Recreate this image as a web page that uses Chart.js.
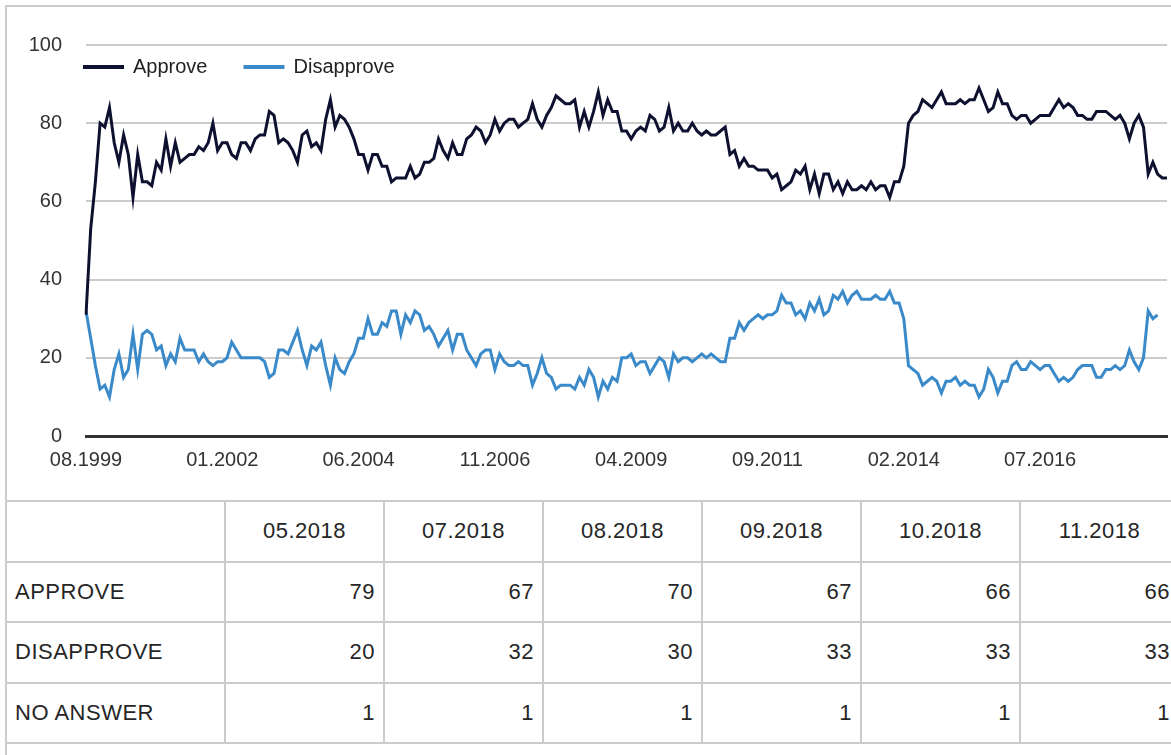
<!DOCTYPE html>
<html>
<head>
<meta charset="utf-8">
<title>Approve / Disapprove</title>
<script src="https://cdn.jsdelivr.net/npm/chart.js@4.4.1/dist/chart.umd.min.js"></script>
<style>
  html, body { margin: 0; padding: 0; background: #fff; overflow: hidden; }
  #wrap { position: absolute; left: 5px; top: 5px; width: 1180px; border-left: 2px solid #ccc; border-top: 2px solid #ccc; padding-bottom: 40px; }
  #canvas-holder { position: relative; width: 1173px; height: 493px; }
  table { border-collapse: collapse; table-layout: fixed; font-family: "Liberation Sans", Arial, sans-serif; font-size: 22px; color: #262626; letter-spacing: 0.5px; }
  td { border: 2px solid #ccc; height: 58.5px; padding: 0 8px; white-space: nowrap; }
  td:first-child { border-left: none; }
  tr.head td { text-align: center; }
  tr.row td { text-align: right; }
  tr.row td:first-child { text-align: left; }
</style>
</head>
<body>
<div id="wrap">
  <div id="canvas-holder"><canvas id="chart-area"></canvas></div>
  <table id="tbl">
    <colgroup>
      <col style="width:218px"><col style="width:159px"><col style="width:159px"><col style="width:159px"><col style="width:159px"><col style="width:159px"><col style="width:159px">
    </colgroup>
    <tbody></tbody>
  </table>
</div>

<script>
    // monthly labels 08.1999 .. 11.2018 (no survey in 06.2018)
    var months = [];
    for (var y = 1999; y <= 2018; y++) {
        for (var m = 1; m <= 12; m++) {
            if ((y === 1999 && m < 8) || (y === 2018 && (m === 6 || m > 11))) continue;
            months.push((m < 10 ? '0' : '') + m + '.' + y);
        }
    }

    var approve = [
        31,53,65,80,79,84,75,70,77,72, 61,72,65,65,64,70,68,76,69,75,
        70,71,72,72,74,73,75,80,73,75, 75,72,71,75,75,73,76,77,77,
        83,82,75,76,75,73,70,77,78,74, 75,73,81,86,79,82,81,79,76,72,
        72,68,72,72,69,69,65,66,66,66, 69,66,67,70,70,71,76,73,71,
        75,72,72,76,77,79,78,75,77,81, 78,80,81,81,79,80,81,85,81,79,
        82,84,87,86,85,85,86,79,83,79, 83,88,82,86,83,83,78,78,
        76,78,79,78,82,81,78,79,84,78, 80,78,78,80,78,77,78,77,77,78,
        79,72,73,69,71,69,69,68,68,68, 66,67,63,64,65,68,67,69,63,
        67,62,67,67,63,65,62,65,63,63, 64,63,65,63,64,64,61,65,65,69,
        80,82,83,86,85,84,86,88,85,85, 85,86,85,86,86,89,86,83,84,
        88,85,85,82,81,82,82,80,81,82, 82,82,84,86,84,85,84,82,82,81,
        81,83,83,83,82,81,82,80,76,80, 82,79,67,70,67,66,66
    ];

    var disapprove = [
        32,25,18,12,13,10,17,21,15,17, 26,17,26,27,26,22,23,18,21,19,
        25,22,22,22,19,21,19,18,19,19, 20,24,22,20,20,20,20,20,19,
        15,16,22,22,21,24,27,22,18,23, 22,24,18,13,20,17,16,19,21,25,
        25,30,26,26,29,28,32,32,26,31, 29,32,31,27,28,26,23,25,27,
        22,26,26,22,20,18,21,22,22,17, 21,19,18,18,19,18,18,13,16,20,
        16,15,12,13,13,13,12,15,13,17, 15,10,14,12,15,14,20,20,
        21,18,19,19,16,18,20,19,15,21, 19,20,20,19,20,21,20,21,20,19,
        19,25,25,29,27,29,30,31,30,31, 31,32,36,34,34,31,32,30,34,
        32,35,31,32,36,35,37,34,36,37, 35,35,35,36,35,35,37,34,34,30,
        18,17,16,13,14,15,14,11,14,14, 15,13,14,13,13,10,12,17,15,
        11,14,14,18,19,17,17,19,18,17, 18,18,16,14,15,14,15,17,18,18,
        18,15,15,17,17,18,17,18,22,19, 17,20,32,30,31,null,null
    ];

    var yTicks = [0, 20, 40, 60, 80, 100];

    // table under the chart
    var tableMonths = ['05.2018', '07.2018', '08.2018', '09.2018', '10.2018', '11.2018'];
    var tableApprove = [79, 67, 70, 67, 66, 66];
    var tableDisapprove = [20, 32, 30, 33, 33, 33];
    var tableNoAnswer = [1, 1, 1, 1, 1, 1];

    var tbody = document.querySelector('#tbl tbody');
    var html = '<tr class="head"><td></td>';
    tableMonths.forEach(function(t) { html += '<td>' + t + '</td>'; });
    html += '</tr>';
    [['APPROVE', tableApprove], ['DISAPPROVE', tableDisapprove], ['NO ANSWER', tableNoAnswer]].forEach(function(r) {
        html += '<tr class="row"><td>' + r[0] + '</td>';
        r[1].forEach(function(v) { html += '<td>' + v + '</td>'; });
        html += '</tr>';
    });
    tbody.innerHTML = html;

    var FONT = '"Liberation Sans", Arial, sans-serif';
    Chart.defaults.font.family = FONT;

    // legend drawn inside the plot, lines + labels
    var lineLegend = {
        id: 'lineLegend',
        afterDraw: function(chart) {
            var ctx = chart.ctx;
            var x = chart.chartArea.left - 3;
            var y = chart.chartArea.top + 22;
            ctx.save();
            ctx.font = '20px ' + FONT;
            ctx.textBaseline = 'middle';
            chart.data.datasets.forEach(function(ds) {
                ctx.strokeStyle = ds.borderColor;
                ctx.lineWidth = 4;
                ctx.beginPath();
                ctx.moveTo(x, y);
                ctx.lineTo(x + 41, y);
                ctx.stroke();
                ctx.fillStyle = '#222';
                ctx.fillText(ds.label, x + 50, y);
                x += 50 + ctx.measureText(ds.label).width + 36;
            });
            ctx.restore();
        }
    };

    var config = {
        type: 'line',
        data: {
            labels: months,
            datasets: [{
                label: 'Approve',
                data: approve,
                borderColor: '#0e1030',
                backgroundColor: '#0e1030',
                borderWidth: 3,
                pointRadius: 0,
                tension: 0
            }, {
                label: 'Disapprove',
                data: disapprove,
                borderColor: '#3a89c9',
                backgroundColor: '#3a89c9',
                borderWidth: 3,
                pointRadius: 0,
                tension: 0
            }]
        },
        options: {
            responsive: true,
            maintainAspectRatio: false,
            animation: false,
            devicePixelRatio: 1,
            layout: { padding: { left: 22, right: 13, top: 38, bottom: 28 } },
            plugins: {
                legend: { display: false },
                tooltip: { enabled: false }
            },
            scales: {
                x: {
                    type: 'category',
                    offset: false,
                    afterFit: function(axis) { axis.height = 36; },
                    grid: { display: false, drawTicks: false, tickLength: 0 },
                    border: { color: '#333', width: 3 },
                    ticks: {
                        autoSkip: false,
                        maxRotation: 0,
                        padding: 12,
                        color: '#333',
                        font: { size: 20 },
                        callback: function(val, idx) {
                            return idx % 29 === 0 ? this.getLabelForValue(val) : null;
                        }
                    }
                },
                y: {
                    min: yTicks[0],
                    max: yTicks[yTicks.length - 1],
                    afterBuildTicks: function(axis) {
                        axis.ticks = yTicks.map(function(v) { return { value: v }; });
                    },
                    afterFit: function(axis) { axis.width = 57; },
                    border: { display: false },
                    grid: {
                        drawTicks: false,
                        tickLength: 0,
                        lineWidth: 2,
                        color: function(c) { return c.tick && c.tick.value === 0 ? 'rgba(0,0,0,0)' : '#cccccc'; }
                    },
                    ticks: { padding: 24, color: '#333', font: { size: 20 } }
                }
            }
        },
        plugins: [lineLegend]
    };

    var ctx = document.getElementById('chart-area').getContext('2d');
    window.myLine = new Chart(ctx, config);
</script>
</body>
</html>
